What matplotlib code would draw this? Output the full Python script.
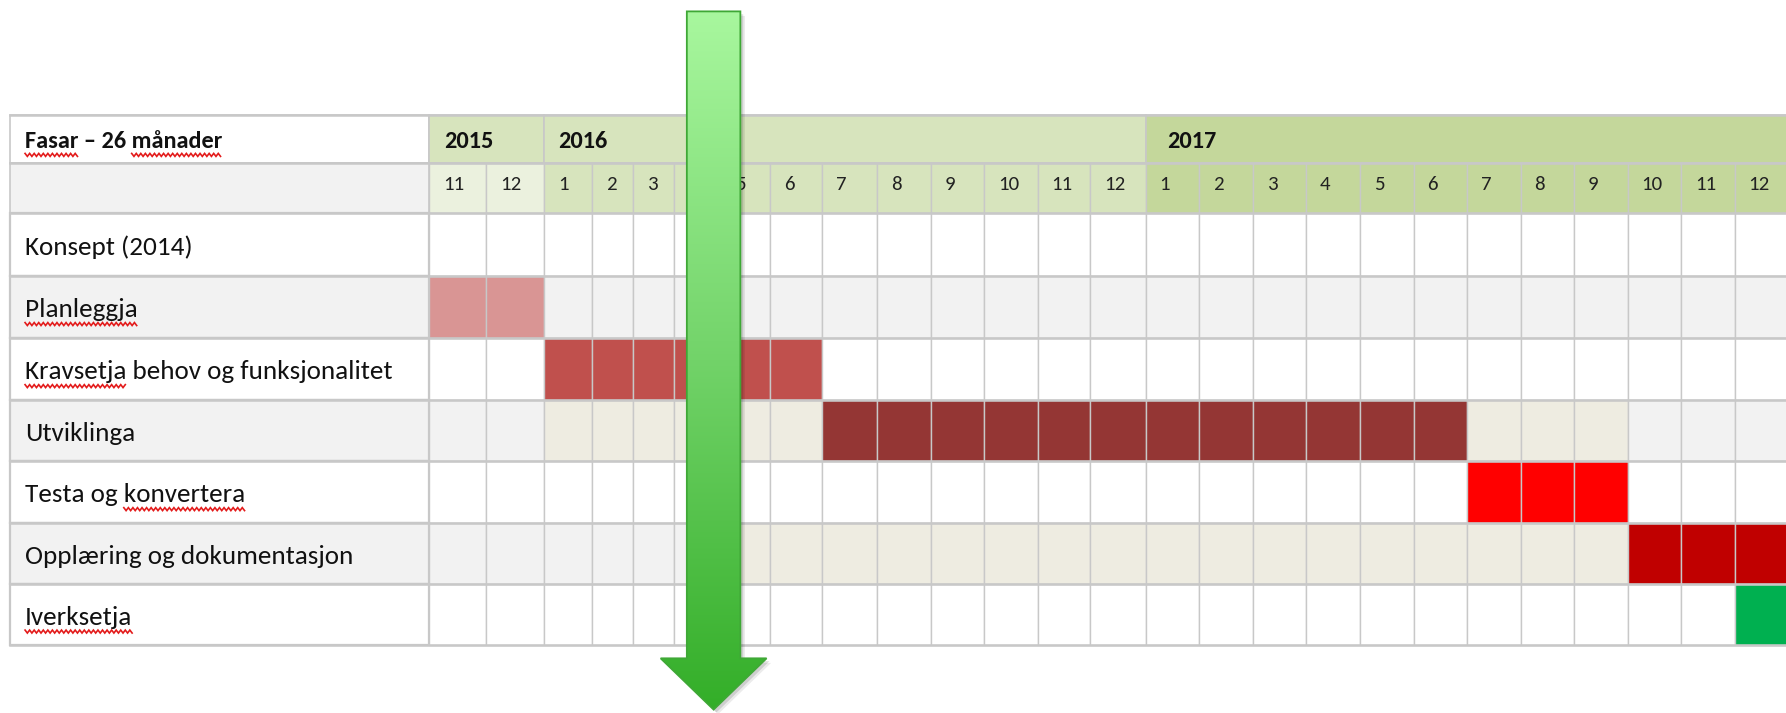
"""Gantt table: Fasar - 26 månader (Nov 2015 - Dec 2017)."""

import matplotlib
matplotlib.use('Agg')
import matplotlib.pyplot as plt
import numpy as np
from matplotlib.patches import Rectangle, Polygon
from matplotlib.colors import LinearSegmentedColormap

# Carlito is metric-compatible with Calibri (the font in the original table)
plt.rcParams['font.family'] = ['Carlito', 'Liberation Sans', 'DejaVu Sans']

# ---- data -------------------------------------------------------------
HEADER = 'Fasar – 26 månader'
YEARS = ['2015', '2016', '2017']
YEAR_MONTHS = [2, 12, 12]
MONTHS = ['11', '12',
          '1', '2', '3', '4', '5', '6', '7', '8', '9', '10', '11', '12',
          '1', '2', '3', '4', '5', '6', '7', '8', '9', '10', '11', '12']
PHASES = ['Konsept (2014)', 'Planleggja', 'Kravsetja behov og funksjonalitet',
          'Utviklinga', 'Testa og konvertera', 'Opplæring og dokumentasjon',
          'Iverksetja']
# words flagged by the spell checker (red squiggle)
SPELL_WORDS = {HEADER: ['Fasar', 'månader'], 'Planleggja': ['Planleggja'],
               'Kravsetja behov og funksjonalitet': ['Kravsetja'],
               'Testa og konvertera': ['konvertera'], 'Iverksetja': ['Iverksetja']}

# schedule: phase row, first month index, number of months, kind
BAR_PHASE = [1, 2, 3, 3, 3, 4, 5, 5, 6]
BAR_START = [0, 2, 2, 8, 20, 20, 6, 23, 25]
BAR_MONTHS = [2, 6, 6, 12, 3, 3, 17, 3, 1]
BAR_KIND = ['plan', 'krav', 'slack', 'utv', 'slack', 'test', 'slack', 'oppl', 'iverk']

# ---- layout / style ---------------------------------------------------
W, H = 1568, 626                       # drawing units (= shrunk reference px)
TABLE_X0, LABEL_X1 = 9, 377
COL_W = [50, 51, 42, 36, 36, 41, 43, 46, 48, 47, 47, 47, 46, 49,
         47, 47, 47, 47, 47, 47, 47, 47, 47, 47, 47, 47]
ROW_Y = [101, 143, 187, 242, 297, 351, 405, 459, 513, 566]
YEAR_PAD = [13, 12, 19]

KIND_COLOR = {'plan': '#D99594', 'krav': '#C0504D', 'slack': '#EEECE1',
              'utv': '#943634', 'test': '#FF0000', 'oppl': '#C00000',
              'iverk': '#00B050'}
YEAR_BG = ['#D7E4BD', '#D7E4BD', '#C4D79B']
MONTH_BG = ['#EBF1DE', '#D7E4BD', '#C4D79B']
ROW_BG = ['#FFFFFF', '#F2F2F2']
GRID = '#C8C8C8'
TXT = '#111111'

LABEL_FS, HEAD_FS, YEAR_FS, MONTH_FS = 19.5, 17.5, 17.5, 15


def squiggle(ax, x0, x1, y):
    xs = np.arange(x0, x1 + 0.1, 2.0)
    ys = y + np.where(np.arange(len(xs)) % 2 == 0, -1.3, 1.3)
    ax.plot(xs, ys, color='#E31B1B', lw=1.2, solid_joinstyle='miter', zorder=6)


def main():
    fig = plt.figure(figsize=(17.86, 7.13), dpi=100)
    ax = fig.add_axes([0, 0, 1, 1])
    ax.set_xlim(0, W)
    ax.set_ylim(H, 0)
    ax.axis('off')

    edges = LABEL_X1 + np.concatenate([[0], np.cumsum(COL_W)])
    year_of = np.repeat(np.arange(len(YEARS)), YEAR_MONTHS)
    top, sub = ROW_Y[0], ROW_Y[1]

    # header row 1
    ax.add_patch(Rectangle((TABLE_X0, top), LABEL_X1 - TABLE_X0, sub - top,
                           fc='white', ec=GRID, lw=1.2))
    start = 0
    for yi, (yr, n) in enumerate(zip(YEARS, YEAR_MONTHS)):
        x0, x1 = edges[start], edges[start + n]
        ax.add_patch(Rectangle((x0, top), x1 - x0, sub - top,
                               fc=YEAR_BG[yi], ec=GRID, lw=1.2))
        ax.text(x0 + YEAR_PAD[yi], top + 29, yr, fontsize=YEAR_FS,
                fontweight='bold', va='baseline', ha='left', color=TXT)
        start += n

    # header row 2 (months)
    ax.add_patch(Rectangle((TABLE_X0, sub), LABEL_X1 - TABLE_X0, ROW_Y[2] - sub,
                           fc='#F2F2F2', ec=GRID, lw=1.2))
    for m, lab in enumerate(MONTHS):
        ax.add_patch(Rectangle((edges[m], sub), COL_W[m], ROW_Y[2] - sub,
                               fc=MONTH_BG[year_of[m]], ec=GRID, lw=1.0))
        ax.text(edges[m] + 12, sub + 24, lab, fontsize=MONTH_FS,
                va='baseline', ha='left', color='#222222')

    # phase rows
    fills = {}
    for b, kind in enumerate(BAR_KIND):
        for m in range(BAR_START[b], BAR_START[b] + BAR_MONTHS[b]):
            fills[(BAR_PHASE[b], m)] = KIND_COLOR[kind]
    for r, name in enumerate(PHASES):
        y0, y1 = ROW_Y[r + 2], ROW_Y[r + 3]
        bg = ROW_BG[r % 2]
        ax.add_patch(Rectangle((TABLE_X0, y0), LABEL_X1 - TABLE_X0, y1 - y0,
                               fc=bg, ec=GRID, lw=1.6))
        for m in range(len(MONTHS)):
            ax.add_patch(Rectangle((edges[m], y0), COL_W[m], y1 - y0,
                                   fc=fills.get((r, m), bg), ec=GRID, lw=1.0))
        ax.text(22, (y0 + y1) / 2 + 9, name, fontsize=LABEL_FS,
                va='baseline', ha='left', color=TXT)
    # thicker horizontal row borders
    for y in ROW_Y:
        ax.plot([TABLE_X0, W + 10], [y, y], color=GRID, lw=1.8, zorder=3)

    ax.text(22, top + 29, HEADER, fontsize=HEAD_FS, fontweight='bold',
            va='baseline', ha='left', color=TXT)

    # spell-check squiggles under flagged words
    fig.canvas.draw()
    rend = fig.canvas.get_renderer()
    px2data = W / fig.bbox.width

    def width_of(s, **kw):
        t = ax.text(0, 0, s, **kw)
        w = t.get_window_extent(rend).width * px2data
        t.remove()
        return w

    for txt, words in SPELL_WORDS.items():
        if txt == HEADER:
            kw, ybase = dict(fontsize=HEAD_FS, fontweight='bold'), top + 29
        else:
            r = PHASES.index(txt)
            kw = dict(fontsize=LABEL_FS)
            ybase = (ROW_Y[r + 2] + ROW_Y[r + 3]) / 2 + 9
        for wd in words:
            i = txt.index(wd)
            x0 = 22 + (width_of(txt[:i], **kw) if i else 0)
            x1 = 22 + width_of(txt[:i + len(wd)], **kw)
            squiggle(ax, x0, x1, ybase + 6)

    # green arrow with vertical gradient
    sx0, sx1, stop, hy = 603, 650, 10, 578
    hx0, hx1, tipy = 580, 673, 623
    cx = (sx0 + sx1) / 2
    verts = [(sx0, stop), (sx1, stop), (sx1, hy), (hx1, hy), (cx, tipy),
             (hx0, hy), (sx0, hy)]
    for off, a in [(4, 0.08), (2.5, 0.12)]:
        ax.add_patch(Polygon([(x + off, y + off) for x, y in verts], closed=True,
                             fc='#000000', ec='none', alpha=a, zorder=7))
    clip = Polygon(verts, closed=True, fc='none', ec='none', zorder=8)
    ax.add_patch(clip)
    cmap = LinearSegmentedColormap.from_list(
        'g', [(0, '#A8F79E'), (0.5, '#72D369'), (1, '#33AE28')])
    grad = np.linspace(0, 1, 256).reshape(-1, 1)
    im = ax.imshow(grad, cmap=cmap, extent=(hx0, hx1, tipy, stop),
                   aspect='auto', zorder=8, interpolation='bilinear')
    im.set_clip_path(clip)
    ax.add_patch(Polygon(verts, closed=True, fc='none', ec='#3FA836',
                         lw=1.3, zorder=9))
    ax.set_xlim(0, W)
    ax.set_ylim(H, 0)

    fig.savefig('out.png', dpi=100)


if __name__ == '__main__':
    main()
